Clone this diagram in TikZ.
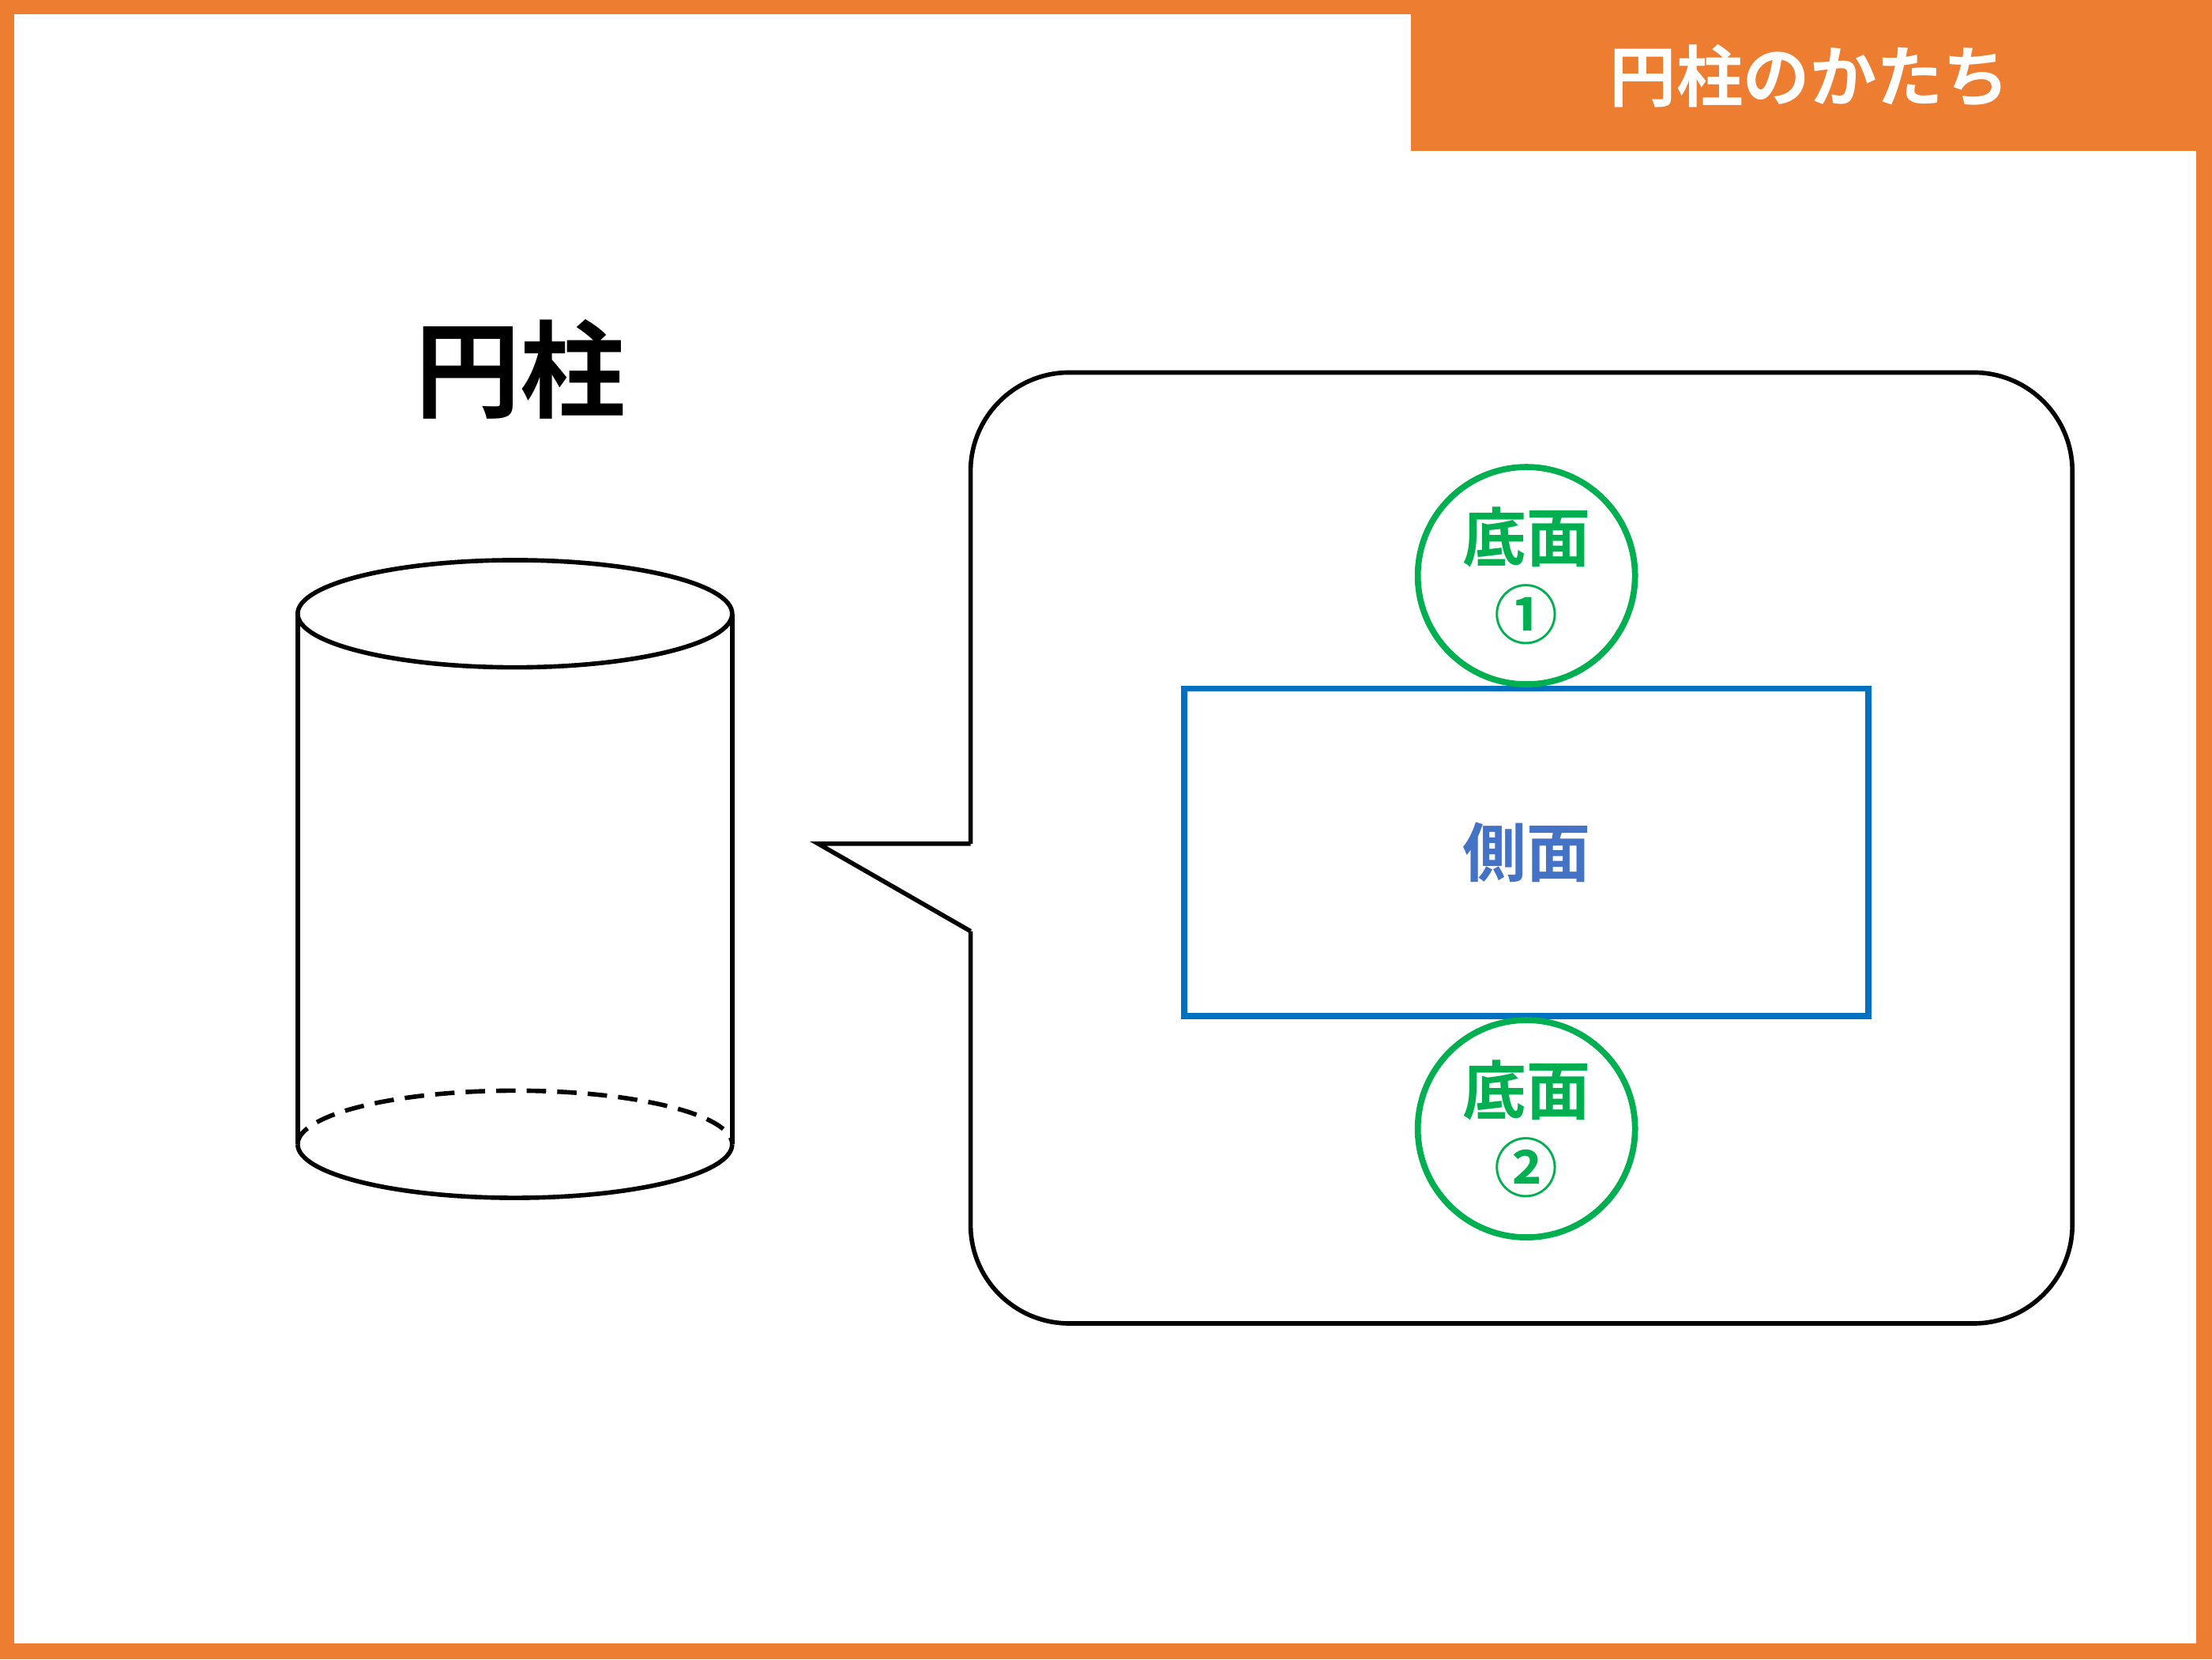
\documentclass[tikz,border=0pt]{standalone}
\usepackage{fontspec}
\setmainfont{Noto Sans CJK JP}
\newfontfamily\jpbold[BoldFont={* Bold}]{Noto Sans CJK JP}
\definecolor{frameorange}{HTML}{ED7D31}
\definecolor{facegreen}{HTML}{00B050}
\definecolor{sideblue}{HTML}{0070C0}
\definecolor{textblue}{HTML}{4472C4}
\tikzset{
	basecircle/.style={circle, draw=facegreen, line width=2.2pt, minimum size=154\pxu, inner sep=0pt},
	facetext/.style={font=\jpbold\bfseries\fontsize{23}{28}\selectfont},
	outline/.style={draw=black, line width=1.6pt}
}
\newlength{\pxu}
\setlength{\pxu}{0.017857cm}
\begin{document}
\begin{tikzpicture}[x=0.017857cm, y=-0.017857cm]
	% frame
	\fill[frameorange] (0,0) rectangle (1568,1176);
	\fill[white] (10,10) rectangle (1557,1165);
	\useasboundingbox (0,0) rectangle (1568,1176);

	% title tab
	\fill[frameorange] (1000,0) rectangle (1568,107);
	\node (title) [text=white, font=\jpbold\bfseries\fontsize{24}{28}\selectfont] at (1283,54) {円柱のかたち};

	% cylinder label
	\node (name) [font=\jpbold\bfseries\fontsize{38}{44}\selectfont] at (369,262) {円柱};

	% cylinder
	\draw[outline] (365,435) ellipse (154 and 38);
	\draw[outline] (211,435) -- (211,811);
	\draw[outline] (519,435) -- (519,811);
	\draw[outline] (211,811) arc[start angle=180, end angle=0, x radius=154, y radius=38];
	\draw[outline, dashed, dash pattern=on 7pt off 4pt] (211,811) arc[start angle=180, end angle=360, x radius=154, y radius=38];

	% callout
	\draw[outline, rounded corners=70\pxu] (688,598) -- (688,264) -- (1469,264) -- (1469,938) -- (688,938) -- (688,660);
	\draw[outline] (688,598) -- (580,598) -- (688,660);

	% net
	\node (side) [draw=sideblue, line width=2.2pt, minimum width=485\pxu, minimum height=232\pxu, inner sep=0pt] at (1082,604) {};
	\node (sidelabel) [text=textblue, facetext] at (side.center) {側面};
	\node (top) [basecircle, align=center, text=facegreen, facetext] at (1082,408) {底面\\①};
	\node (bottom) [basecircle, align=center, text=facegreen, facetext] at (1082,800) {底面\\②};
\end{tikzpicture}
\end{document}
